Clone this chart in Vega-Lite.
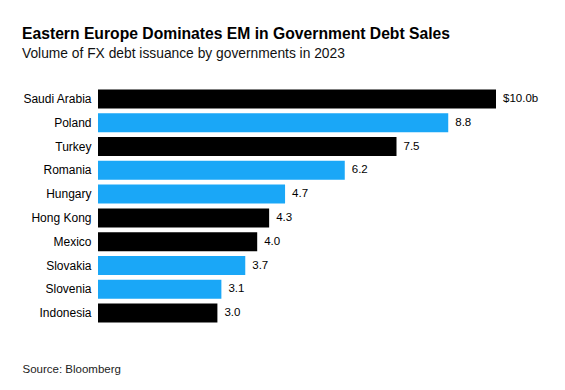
{
  "$schema": "https://vega.github.io/schema/vega-lite/v6.json",
  "autosize": {"type": "none"},
  "padding": {"left": 98, "top": 87, "right": 69, "bottom": 65},
  "width": 398,
  "height": 238,
  "background": "white",
  "config": {
    "font": "Liberation Sans",
    "view": {"stroke": null}
  },
  "title": {
    "text": "Eastern Europe Dominates EM in Government Debt Sales",
    "subtitle": "Volume of FX debt issuance by governments in 2023",
    "anchor": "start",
    "frame": "bounds",
    "font": "Liberation Sans",
    "fontSize": 15.7,
    "fontWeight": "bold",
    "color": "#000000",
    "subtitleFont": "Liberation Sans",
    "subtitleFontSize": 13.8,
    "subtitleColor": "#111111",
    "subtitlePadding": 5,
    "offset": 25
  },
  "data": {
    "values": [
      {"country": "Saudi Arabia", "value": 10.0, "group": "Other", "label": "$10.0b"},
      {"country": "Poland", "value": 8.8, "group": "Eastern Europe", "label": "8.8"},
      {"country": "Turkey", "value": 7.5, "group": "Other", "label": "7.5"},
      {"country": "Romania", "value": 6.2, "group": "Eastern Europe", "label": "6.2"},
      {"country": "Hungary", "value": 4.7, "group": "Eastern Europe", "label": "4.7"},
      {"country": "Hong Kong", "value": 4.3, "group": "Other", "label": "4.3"},
      {"country": "Mexico", "value": 4.0, "group": "Other", "label": "4.0"},
      {"country": "Slovakia", "value": 3.7, "group": "Eastern Europe", "label": "3.7"},
      {"country": "Slovenia", "value": 3.1, "group": "Eastern Europe", "label": "3.1"},
      {"country": "Indonesia", "value": 3.0, "group": "Other", "label": "3.0"}
    ]
  },
  "encoding": {
    "y": {
      "field": "country",
      "type": "nominal",
      "sort": null,
      "scale": {"paddingInner": 0.2, "paddingOuter": 0.1},
      "axis": {
        "title": null,
        "ticks": false,
        "domain": false,
        "labelPadding": 7,
        "labelFontSize": 12,
        "labelColor": "#000000",
        "labelFont": "Liberation Sans"
      }
    },
    "x": {
      "field": "value",
      "type": "quantitative",
      "scale": {"domain": [0, 10], "nice": false},
      "axis": {
        "labels": false,
        "ticks": false,
        "domain": false,
        "grid": false,
        "title": "Source: Bloomberg",
        "titleAnchor": "start",
        "titleAlign": "left",
        "titleX": -76,
        "titleY": 47,
        "titleBaseline": "alphabetic",
        "titleFontWeight": "normal",
        "titleFontSize": 11.5,
        "titleColor": "#222222",
        "titleFont": "Liberation Sans"
      }
    }
  },
  "layer": [
    {
      "mark": {"type": "bar"},
      "encoding": {
        "color": {
          "field": "group",
          "type": "nominal",
          "scale": {"domain": ["Eastern Europe", "Other"], "range": ["#1aa7f7", "#000000"]},
          "legend": null
        }
      }
    },
    {
      "mark": {"type": "text", "align": "left", "baseline": "middle", "dx": 7, "fontSize": 11.5, "color": "#000000", "font": "Liberation Sans"},
      "encoding": {
        "text": {"field": "label", "type": "nominal"}
      }
    }
  ]
}
